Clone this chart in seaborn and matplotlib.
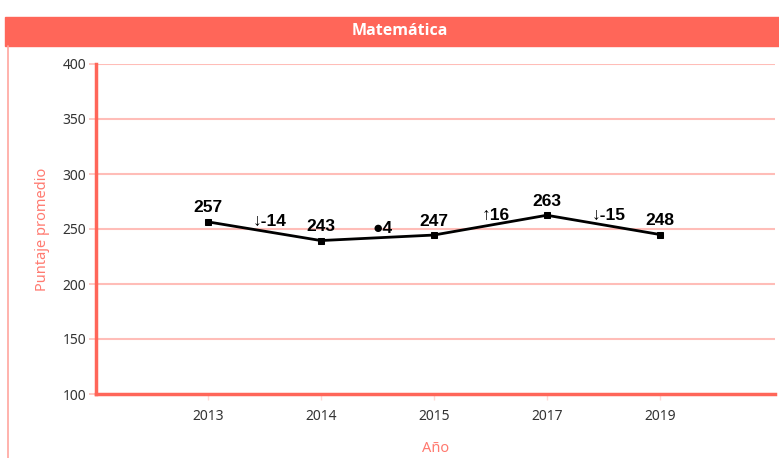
import numpy as np
import pandas as pd
import matplotlib
matplotlib.use("Agg")
import matplotlib.pyplot as plt
import seaborn as sns
from matplotlib.patches import Rectangle
from matplotlib.lines import Line2D

# data
years = ["2013", "2014", "2015", "2017", "2019"]
scores = [256.5, 239.5, 244.5, 262.5, 245]      # where the markers sit
score_labels = ["257", "243", "247", "263", "248"]  # printed values
deltas = ["↓-14", "●4", "↑16", "↓-15"]
title = "Matemática"
y_ticks = [100, 150, 200, 250, 300, 350, 400]

RED = "#FF6659"
PINK = "#FFBDB8"
LABEL_RED = "#FF7A70"

sns.set_theme(style="white")
plt.rcParams["font.family"] = ["Noto Sans", "DejaVu Sans"]

df = pd.DataFrame({"year": years, "score": scores})

W, H = 779, 458
fig = plt.figure(figsize=(W / 100, H / 100), dpi=100)

# header bar + card border
fig.patches.append(Rectangle((5 / W, 1 - 46 / H), (W - 5) / W, 29 / H,
                             transform=fig.transFigure, color=RED, zorder=0))
fig.text(400 / W, 1 - 31 / H, title, color="white", fontsize=11.5,
         fontweight="bold", ha="center", va="center", family=["Open Sans", "DejaVu Sans"])
fig.lines.append(Line2D([8 / W, 8 / W], [0, 1 - 46 / H], transform=fig.transFigure,
                        color="#FFA59E", lw=1.2))

ax = fig.add_axes([96 / W, 1 - 394 / H, (775 - 96) / W, (394 - 64) / H])

sns.lineplot(data=df, x="year", y="score", ax=ax, color="black", lw=2,
             marker="s", markersize=5, markeredgecolor="black", sort=False)

ax.set_xlim(-0.99, 5.02)
ax.set_ylim(100, 400)
ax.set_yticks(y_ticks)
for v in y_ticks[1:]:
    ax.axhline(v, color=PINK, lw=1.5, zorder=0)

for s in ["top", "right"]:
    ax.spines[s].set_visible(False)
for s in ["left", "bottom"]:
    ax.spines[s].set_color(RED)
    ax.spines[s].set_linewidth(2.5)

ax.tick_params(axis="y", colors=PINK, labelcolor="#333333", labelsize=10,
               length=5, width=1.2, left=True, pad=2)
ax.tick_params(axis="x", colors="#FFD8D5", labelcolor="#333333", labelsize=10,
               length=4, width=1, bottom=True, pad=7)

ax.set_xlabel("Año", color=LABEL_RED, fontsize=10.5, labelpad=12)
ax.set_ylabel("Puntaje promedio", color=LABEL_RED, fontsize=10.5, labelpad=9)

# value labels
for i, (v, lab) in enumerate(zip(scores, score_labels)):
    ax.annotate(lab, (i, v), xytext=(0, 10), textcoords="offset points",
                ha="center", va="center", fontsize=12.5, fontweight="bold",
                color="black", family=["Liberation Sans", "DejaVu Sans"])

# change labels between years
for i, d in enumerate(deltas):
    yv = max(scores[i], scores[i + 1])
    if d.startswith("●"):
        yv += 6
    ax.text(i + 0.55, yv, d, ha="center", va="center", fontsize=12.5,
            fontweight="bold", color="black", family=["Liberation Sans", "DejaVu Sans"])

fig.savefig("out.png", dpi=100)
